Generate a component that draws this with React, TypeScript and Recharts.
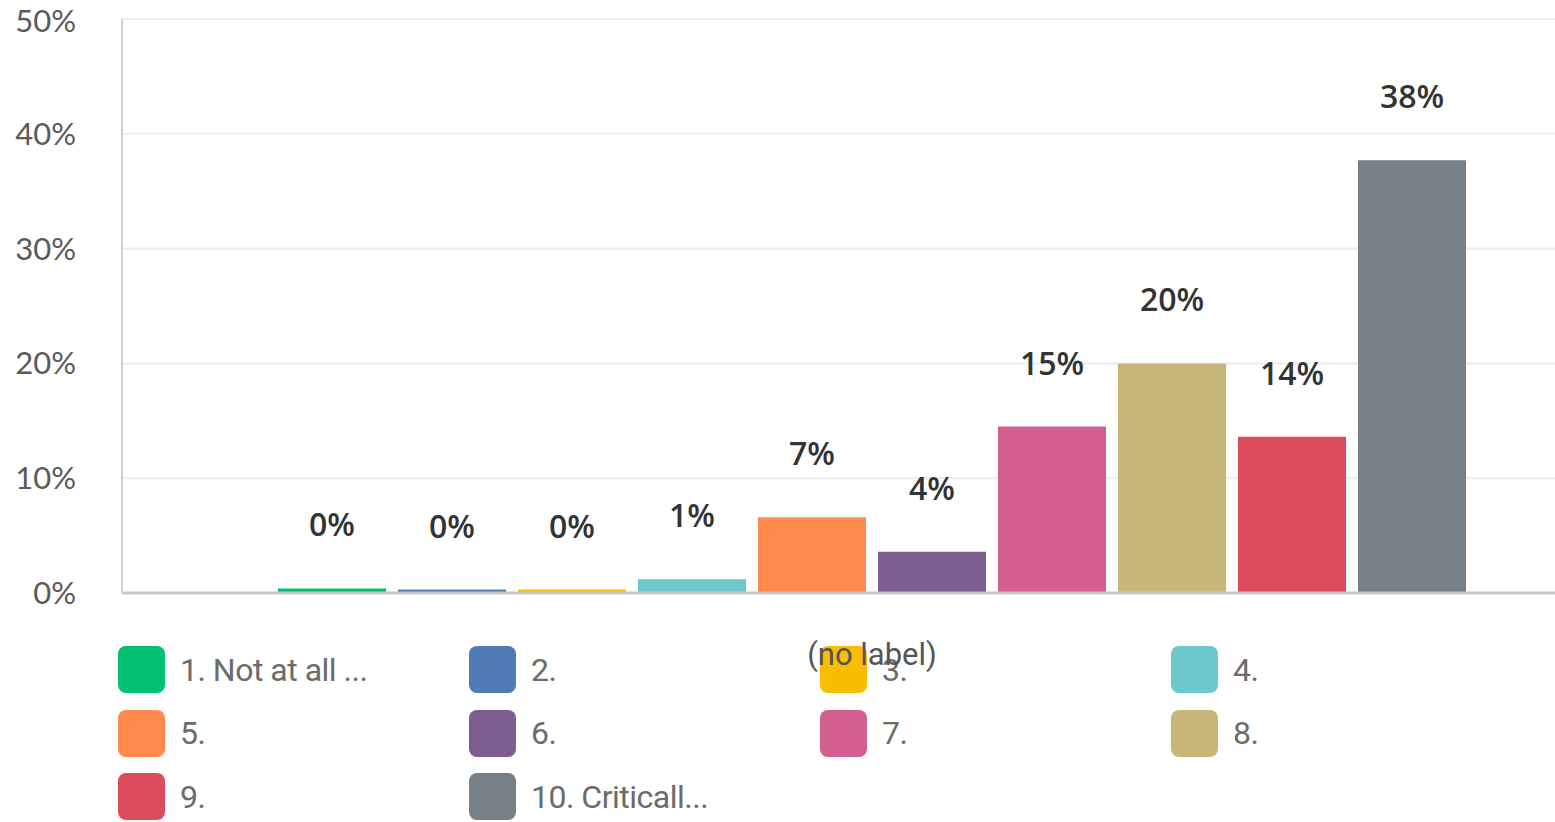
import { BarChart, Bar, XAxis, YAxis, CartesianGrid, LabelList } from "recharts";

const category = "(no label)";
const seriesNames = ["1. Not at all ...", "2.", "3.", "4.", "5.", "6.", "7.", "8.", "9.", "10. Criticall..."];
const seriesValues = [0.4, 0.3, 0.3, 1.2, 6.6, 3.6, 14.5, 20.0, 13.6, 37.7];
const seriesColors = [
  "#00BF6F", "#507CB6", "#F9BE00", "#6BC8CD", "#FF8B4F",
  "#7D5E90", "#D25F90", "#C7B879", "#DB4D5C", "#768086",
];
const yTicks = [0, 10, 20, 30, 40, 50];

const row: Record<string, string | number> = { name: category };
seriesValues.forEach((v, i) => {
  row[`s${i}`] = v;
});
const data = [row];

const font = "Lato, 'Open Sans', sans-serif";

function Legend() {
  // 4 columns, filled row by row
  return (
    <div style={{ position: "absolute", left: 0, top: 0, width: 1555, height: 822 }}>
      {seriesNames.map((name, i) => {
        const col = i % 4;
        const r = Math.floor(i / 4);
        return (
          <div
            key={name}
            style={{
              position: "absolute",
              left: 118 + col * 351,
              top: 646 + r * 63.5,
              display: "flex",
              alignItems: "center",
              height: 47,
            }}
          >
            <div
              style={{
                width: 47,
                height: 47,
                borderRadius: 8,
                background: seriesColors[i],
              }}
            />
            <span
              style={{
                marginLeft: 15,
                fontFamily: "Roboto, sans-serif",
                fontSize: 32,
                color: "#6b6b6b",
                letterSpacing: -0.5,
              }}
            >
              {name}
            </span>
          </div>
        );
      })}
    </div>
  );
}

export default function App() {
  return (
    <div
      style={{
        position: "absolute",
        left: 0,
        top: 0,
        width: 1555,
        height: 822,
        overflow: "hidden",
        background: "#fff",
      }}
    >
      <Legend />
      <div style={{ position: "absolute", left: 0, top: 0 }}>
        <BarChart
          width={1640}
          height={822}
          data={data}
          margin={{ top: 19, right: 18, bottom: 0, left: 0 }}
          barGap={12}
          barCategoryGap={0}
        >
          <CartesianGrid vertical={false} stroke="#ececec" strokeWidth={2} />
          <XAxis
            dataKey="name"
            height={229}
            tickLine={false}
            axisLine={{ stroke: "#c8c8c8", strokeWidth: 3 }}
            tickSize={0}
            tickMargin={50}
            tick={{ fill: "#555", fontSize: 31, fontFamily: "Roboto, sans-serif" }}
          />
          <YAxis
            width={122}
            domain={[0, 50]}
            ticks={yTicks}
            tickFormatter={(v) => `${v}%`}
            tickLine={false}
            axisLine={{ stroke: "#d0d0d0", strokeWidth: 2 }}
            tickSize={0}
            tickMargin={46}
            tick={{ fill: "#5a5a5a", fontSize: 31, fontFamily: font }}
          />
          {seriesValues.map((_, i) => (
            <Bar
              key={i}
              dataKey={`s${i}`}
              name={seriesNames[i]}
              fill={seriesColors[i]}
              barSize={108}
              isAnimationActive={false}
            >
              <LabelList
                dataKey={`s${i}`}
                position="top"
                offset={52}
                formatter={(v: any) => `${Math.round(Number(v))}%`}
                style={{ fill: "#333", fontSize: 32, fontWeight: 600, fontFamily: "'Open Sans', sans-serif" }}
              />
            </Bar>
          ))}
        </BarChart>
      </div>
    </div>
  );
}
